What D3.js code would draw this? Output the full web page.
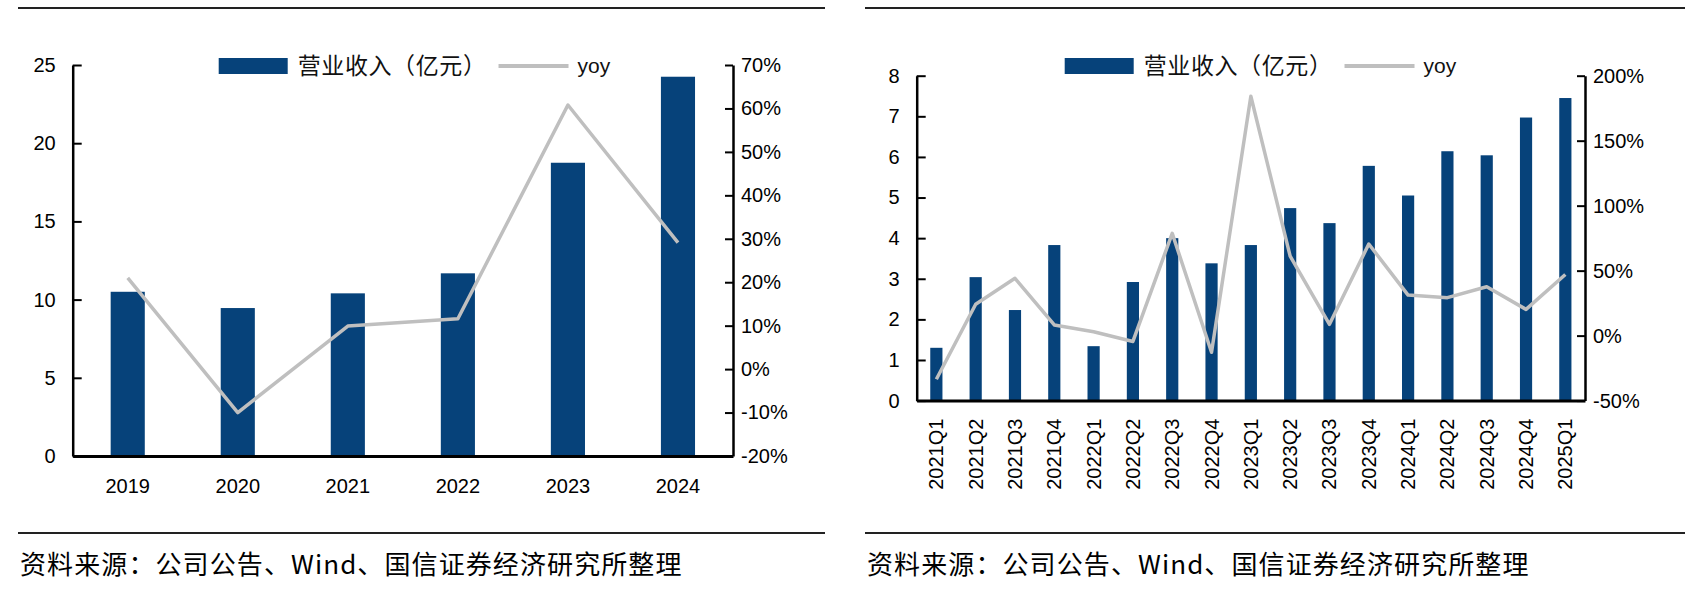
<!DOCTYPE html>
<html>
<head>
<meta charset="utf-8">
<script src="https://cdn.jsdelivr.net/npm/d3@7"></script>
<style>
  html, body { margin: 0; padding: 0; background: #fff; }
  svg { display: block; }
  .tick text { font-family: "Liberation Sans", Arial, sans-serif; font-size: 20px; fill: #000; }
</style>
</head>
<body>
<svg width="1707" height="603"></svg>
<script>
// annual chart
const years = ["2019", "2020", "2021", "2022", "2023", "2024"];
const yearRevenue = [10.5, 9.46, 10.4, 11.68, 18.75, 24.25];
const yearYoy = [21.0, -10.0, 9.9, 11.6, 60.8, 29.1];
const yearLeftTicks = [0, 5, 10, 15, 20, 25];
const yearRightTicks = [-20, -10, 0, 10, 20, 30, 40, 50, 60, 70];

// quarterly chart
const quarters = ["2021Q1", "2021Q2", "2021Q3", "2021Q4", "2022Q1", "2022Q2", "2022Q3", "2022Q4",
  "2023Q1", "2023Q2", "2023Q3", "2023Q4", "2024Q1", "2024Q2", "2024Q3", "2024Q4", "2025Q1"];
const quarterRevenue = [1.30, 3.04, 2.23, 3.83, 1.34, 2.92, 4.0, 3.38,
  3.83, 4.74, 4.37, 5.78, 5.05, 6.14, 6.04, 6.97, 7.45];
const quarterYoy = [-33.6, 24.1, 44.1, 8.2, 3.0, -4.5, 78.7, -12.8,
  184.2, 61.2, 8.7, 70.5, 31.2, 29.2, 37.6, 20.2, 47.0];
const quarterLeftTicks = [0, 1, 2, 3, 4, 5, 6, 7, 8];
const quarterRightTicks = [-50, 0, 50, 100, 150, 200];

const legendLabels = ["营业收入（亿元）", "yoy"];
const sourceNote = "资料来源：公司公告、Wind、国信证券经济研究所整理";

const barColor = "#06427a";
const lineColor = "#bfbfbf";
const cjk = "'Noto Sans CJK SC', 'Noto Sans', sans-serif";

const svg = d3.select("svg");

function drawPanel(p) {
  const g = svg.append("g");

  // rules above and below
  g.append("line").attr("x1", p.ruleX0).attr("x2", p.ruleX1).attr("y1", 8).attr("y2", 8)
    .attr("stroke", "#222").attr("stroke-width", 2);
  g.append("line").attr("x1", p.ruleX0).attr("x2", p.ruleX1).attr("y1", 533).attr("y2", 533)
    .attr("stroke", "#222").attr("stroke-width", 2);

  const pad = 0.69;
  const x = d3.scaleBand().domain(p.cats).range([p.x0, p.x1]).paddingInner(pad).paddingOuter(pad / 2);
  const yL = d3.scaleLinear().domain(d3.extent(p.leftTicks)).range([p.yBottom, p.yTop]);
  const yR = d3.scaleLinear().domain(d3.extent(p.rightTicks)).range([p.yBottom, p.yTop]);

  // bars
  g.append("g").selectAll("rect")
    .data(p.cats)
    .enter()
    .append("rect")
    .attr("x", d => x(d))
    .attr("width", x.bandwidth())
    .attr("y", (d, i) => yL(p.revenue[i]))
    .attr("height", (d, i) => yL(0) - yL(p.revenue[i]))
    .attr("fill", barColor);

  // yoy line
  const line = d3.line()
    .x((d, i) => x(p.cats[i]) + x.bandwidth() / 2)
    .y(d => yR(d));
  g.append("path")
    .datum(p.yoy)
    .attr("d", line)
    .attr("fill", "none")
    .attr("stroke", lineColor)
    .attr("stroke-width", 3.5)
    .attr("stroke-linejoin", "round");

  // left axis
  const left = g.append("g")
    .attr("transform", `translate(${p.x0},0)`)
    .call(d3.axisLeft(yL).tickValues(p.leftTicks).tickSizeInner(-9).tickSizeOuter(0).tickPadding(17));
  left.select(".domain").attr("stroke", "#000").attr("stroke-width", 2.5);
  left.selectAll(".tick line").attr("stroke", "#000").attr("stroke-width", 2);

  // right axis
  const right = g.append("g")
    .attr("transform", `translate(${p.x1},0)`)
    .call(d3.axisRight(yR).tickValues(p.rightTicks).tickSizeInner(-8).tickSizeOuter(0).tickPadding(8)
      .tickFormat(d => d + "%"));
  right.select(".domain").attr("stroke", "#000").attr("stroke-width", 2.5);
  right.selectAll(".tick line").attr("stroke", "#000").attr("stroke-width", 2);

  // bottom axis
  const bottom = g.append("g")
    .attr("transform", `translate(0,${p.yBottom})`)
    .call(d3.axisBottom(x).tickSize(0).tickPadding(p.rotate ? 18 : 23));
  bottom.select(".domain").attr("stroke", "#000").attr("stroke-width", 3);
  if (p.rotate) {
    bottom.selectAll(".tick text")
      .attr("transform", "rotate(-90)")
      .attr("text-anchor", "end")
      .attr("x", -18)
      .attr("y", 0)
      .attr("dy", "0.35em");
  }

  // legend
  const lg = g.append("g").attr("transform", `translate(${p.x0 + p.legendDx},66)`);
  lg.append("rect").attr("x", 0).attr("y", -8).attr("width", 69).attr("height", 16).attr("fill", barColor);
  const t1 = lg.append("text")
    .attr("x", 79).attr("y", 0).attr("dy", "0.35em")
    .style("font-family", cjk).style("font-size", "23px").style("letter-spacing", "0.6px")
    .attr("fill", "#111")
    .text(legendLabels[0]);
  const lx = 79 + t1.node().getComputedTextLength() + 12;
  lg.append("line").attr("x1", lx).attr("x2", lx + 70).attr("y1", 0).attr("y2", 0)
    .attr("stroke", lineColor).attr("stroke-width", 4);
  lg.append("text")
    .attr("x", lx + 79).attr("y", 0).attr("dy", "0.35em")
    .style("font-family", "'Liberation Sans', Arial, sans-serif").style("font-size", "21px").attr("fill", "#111")
    .text(legendLabels[1]);

  // source note
  g.append("text")
    .attr("x", p.ruleX0 + 2).attr("y", 574)
    .style("font-family", cjk).style("font-size", "26px").style("letter-spacing", "1.1px")
    .attr("fill", "#000")
    .text(sourceNote);
}

drawPanel({
  cats: years, revenue: yearRevenue, yoy: yearYoy,
  leftTicks: yearLeftTicks, rightTicks: yearRightTicks,
  x0: 72.7, x1: 733, yTop: 65, yBottom: 456,
  ruleX0: 18, ruleX1: 825, legendDx: 146, rotate: false
});

drawPanel({
  cats: quarters, revenue: quarterRevenue, yoy: quarterYoy,
  leftTicks: quarterLeftTicks, rightTicks: quarterRightTicks,
  x0: 916.7, x1: 1585, yTop: 75.7, yBottom: 400.6,
  ruleX0: 865, ruleX1: 1685, legendDx: 148, rotate: true
});
</script>
</body>
</html>
